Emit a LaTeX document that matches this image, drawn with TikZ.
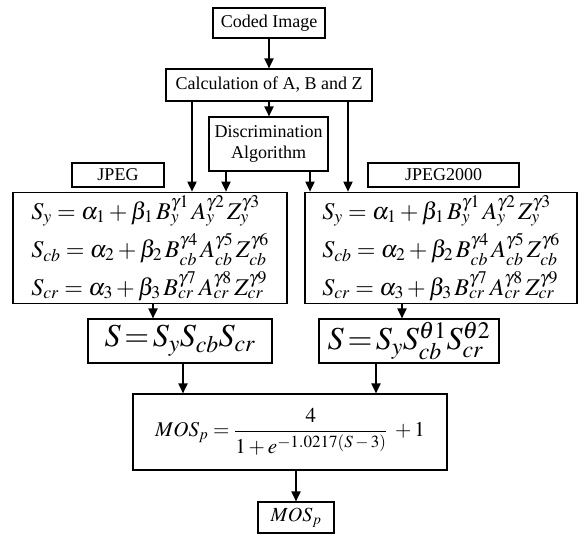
\documentclass[tikz,border=0pt]{standalone}
\usepackage{amsmath}
\usepackage{mathptmx}
\usepackage{fontspec}
\setmainfont{Liberation Serif}
\newfontfamily\lblfont{Liberation Serif}
\usetikzlibrary{arrows.meta}

\tikzset{
  blk/.style={draw,line width=1.1pt,inner sep=2pt,align=center,font=\lblfont\fontsize{18}{21}\selectfont},
  eqblk/.style={draw,line width=1.1pt,inner sep=3pt,align=left,font=\fontsize{24}{38}\selectfont},
  arr/.style={line width=1.8pt,-{Triangle[length=10pt,width=9pt]}}
}
\newcommand{\expsize}[1]{\mbox{\fontsize{17}{18}\selectfont$#1$}}

\begin{document}
\begin{tikzpicture}[x=1pt,y=-1pt]
        \useasboundingbox (0,0) rectangle (578,534);
        % top of the chain
        \node[blk,minimum width=112pt,minimum height=30pt] (coded) at (269,23) {Coded Image};
        \node[blk,minimum width=206pt,minimum height=32pt] (calc) at (269,85) {Calculation of A, B and Z};
        \node[blk,minimum width=119pt,minimum height=54pt] (disc) at (268.5,144) {Discrimination\\Algorithm};
        \node[blk,minimum width=92pt,minimum height=24pt] (jpeg) at (118,175) {JPEG};
        \node[blk,minimum width=151pt,minimum height=24pt] (jpk) at (443.5,175) {JPEG2000};
        % quality of the three channels
        \node[eqblk,minimum width=274pt,minimum height=110pt] (eqL) at (150,248)
          {$S_{y}=\alpha_1+\beta_1\,B_{y}^{\gamma1}\,A_{y}^{\gamma2}\,Z_{y}^{\gamma3}$\\
           $S_{cb}=\alpha_2+\beta_2\,B_{cb}^{\gamma4}\,A_{cb}^{\gamma5}\,Z_{cb}^{\gamma6}$\\
           $S_{cr}=\alpha_3+\beta_3\,B_{cr}^{\gamma7}\,A_{cr}^{\gamma8}\,Z_{cr}^{\gamma9}$};
        \node[eqblk,minimum width=272pt,minimum height=110pt] (eqR) at (441,248)
          {$S_{y}=\alpha_1+\beta_1\,B_{y}^{\gamma1}\,A_{y}^{\gamma2}\,Z_{y}^{\gamma3}$\\
           $S_{cb}=\alpha_2+\beta_2\,B_{cb}^{\gamma4}\,A_{cb}^{\gamma5}\,Z_{cb}^{\gamma6}$\\
           $S_{cr}=\alpha_3+\beta_3\,B_{cr}^{\gamma7}\,A_{cr}^{\gamma8}\,Z_{cr}^{\gamma9}$};
        \node[blk,minimum width=184pt,minimum height=44pt,font=\fontsize{32}{36}\selectfont] (sL) at (180,341)
          {$S\!=\!S_{y}S_{cb}S_{cr}$};
        \node[blk,minimum width=180pt,minimum height=44pt,font=\fontsize{32}{36}\selectfont] (sR) at (409,341)
          {$S\!=\!S_{y}S_{cb}^{\theta1}S_{cr}^{\theta2}$};
        % final mapping
        \node[blk,minimum width=314pt,minimum height=76pt,font=\fontsize{21}{24}\selectfont] (mos) at (290,432)
          {$MOS_p=\dfrac{4}{1+e^{\expsize{-1.0217(S-3)}}}\;+1$};
        \node[blk,minimum width=76pt,minimum height=31pt,font=\fontsize{20}{24}\selectfont] (out) at (296,517.5)
          {$MOS_p$};

        \draw[arr] (coded) -- (calc);
        \draw[arr] ([xshift=-77pt]calc.south) -- ([xshift=-77pt]calc.south |- eqL.north);
        \draw[arr] (calc.south) -- (calc.south |- disc.north);
        \draw[arr] ([xshift=79pt]calc.south) -- ([xshift=79pt]calc.south |- eqR.north);
        \draw[arr] ([xshift=-42.5pt]disc.south) -- ([xshift=-42.5pt]disc.south |- eqL.north);
        \draw[arr] ([xshift=41.5pt]disc.south) -- ([xshift=41.5pt]disc.south |- eqR.north);
        \draw[arr] ([xshift=3pt]eqL.south) -- ([xshift=3pt]eqL.south |- sL.north);
        \draw[arr] ([xshift=-39pt]eqR.south) -- ([xshift=-39pt]eqR.south |- sR.north);
        \draw[arr] ([xshift=3pt]sL.south) -- ([xshift=3pt]sL.south |- mos.north);
        \draw[arr] ([xshift=-33pt]sR.south) -- ([xshift=-33pt]sR.south |- mos.north);
        \draw[arr] ([xshift=6pt]mos.south) -- (out.north);
      \end{tikzpicture}
\end{document}
